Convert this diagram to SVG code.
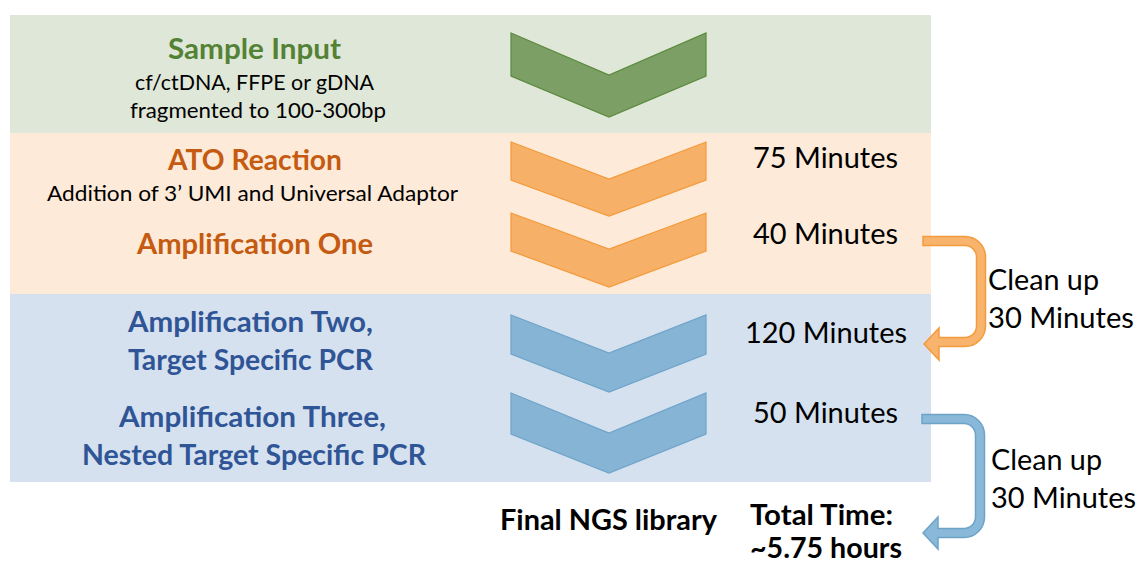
<svg xmlns="http://www.w3.org/2000/svg" width="1141" height="563" viewBox="0 0 1141 563">
<style>
text{font-family:Lato,"Liberation Sans",sans-serif;}
.t{font-size:29px;font-weight:bold;}
.s{font-size:22px;fill:#000;}
.m{font-size:29px;fill:#000;}
.k{font-size:29px;font-weight:bold;fill:#000;}
.g{fill:#548235;}
.o{fill:#c55a11;}
.b{fill:#2f5597;}
.cg{fill:#7c9f65;stroke:#5b8a3c;stroke-width:1.2;}
.co{fill:#f7b067;stroke:#f39a3a;stroke-width:1.2;}
.cb{fill:#86b4d5;stroke:#6fa4c9;stroke-width:1.2;}
.ao{fill:#f8b36d;stroke:#f49b3c;stroke-width:1.5;}
.ab{fill:#8ab8d9;stroke:#6ea3c8;stroke-width:1.5;}
</style>
<rect width="1141" height="563" fill="#fff"/>
<g id="bands">
<rect x="10" y="15" width="921" height="118" fill="#dfe7d8"/>
<rect x="10" y="133" width="921" height="161" fill="#fdead8"/>
<rect x="10" y="294" width="921" height="188" fill="#d5e1ee"/>
</g>
<g id="sample-input">
<polygon class="cg" points="511,33 609,75 706,33 706,76 609,117 511,76"/>
<text class="t g" x="254.5" y="59" text-anchor="middle" textLength="173" lengthAdjust="spacingAndGlyphs">Sample Input</text>
<text class="s" x="254.5" y="90" text-anchor="middle" textLength="239" lengthAdjust="spacingAndGlyphs">cf/ctDNA, FFPE or gDNA</text>
<text class="s" x="258" y="118" text-anchor="middle" textLength="256" lengthAdjust="spacingAndGlyphs">fragmented to 100-300bp</text>
</g>
<g id="ato-reaction">
<polygon class="co" points="511,142 609,179 706,142 706,180 609,216 511,180"/>
<text class="t o" x="255" y="170" text-anchor="middle" textLength="174" lengthAdjust="spacingAndGlyphs">ATO Reaction</text>
<text class="s" x="252.5" y="201" text-anchor="middle" textLength="411" lengthAdjust="spacingAndGlyphs">Addition of 3’ UMI and Universal Adaptor</text>
<text class="m" x="753" y="168" textLength="145" lengthAdjust="spacingAndGlyphs">75 Minutes</text>
</g>
<g id="amplification-one">
<polygon class="co" points="511,213 609,249 706,213 706,251 609,287 511,251"/>
<text class="t o" x="255" y="254" text-anchor="middle" textLength="236" lengthAdjust="spacingAndGlyphs">Amplification One</text>
<text class="m" x="753" y="244" textLength="145" lengthAdjust="spacingAndGlyphs">40 Minutes</text>
</g>
<g id="amplification-two">
<polygon class="cb" points="511,315 609,353 706,315 706,354 609,392 511,354"/>
<text class="t b" x="250.5" y="332" text-anchor="middle" textLength="245" lengthAdjust="spacingAndGlyphs">Amplification Two,</text>
<text class="t b" x="250.5" y="370" text-anchor="middle" textLength="245" lengthAdjust="spacingAndGlyphs">Target Specific PCR</text>
<text class="m" x="745" y="343" textLength="162" lengthAdjust="spacingAndGlyphs">120 Minutes</text>
</g>
<g id="amplification-three">
<polygon class="cb" points="511,393 609,433 706,393 706,434 609,473 511,434"/>
<text class="t b" x="252.5" y="427" text-anchor="middle" textLength="267" lengthAdjust="spacingAndGlyphs">Amplification Three,</text>
<text class="t b" x="254" y="465" text-anchor="middle" textLength="344" lengthAdjust="spacingAndGlyphs">Nested Target Specific PCR</text>
<text class="m" x="753" y="423" textLength="145" lengthAdjust="spacingAndGlyphs">50 Minutes</text>
</g>
<g id="final-library">
<text class="k" x="500" y="530" textLength="217" lengthAdjust="spacingAndGlyphs">Final NGS library</text>
</g>
<g id="total-time">
<text class="k" x="750" y="525" textLength="143" lengthAdjust="spacingAndGlyphs">Total Time:</text>
<text class="k" x="750" y="558" textLength="152" lengthAdjust="spacingAndGlyphs">~5.75 hours</text>
</g>
<g id="connectors">
<path class="ao" d="M923 236.5H965A20.5 20.5 0 0 1 985.5 257V326A20.5 20.5 0 0 1 965 346.5H939V360L924 344L939 328V337.5H965A11.5 11.5 0 0 0 976.5 326V257A11.5 11.5 0 0 0 965 245.5H923Z"/>
<path class="ab" d="M922 414.5H964A20.5 20.5 0 0 1 984.5 435V517A20.5 20.5 0 0 1 964 537.5H938V549L923 533L938 517V528.5H964A11.5 11.5 0 0 0 975.5 517V435A11.5 11.5 0 0 0 964 423.5H922Z"/>
</g>
<g id="cleanup-1">
<text class="m" x="988" y="290" textLength="111" lengthAdjust="spacingAndGlyphs">Clean up</text>
<text class="m" x="988" y="328" textLength="146" lengthAdjust="spacingAndGlyphs">30 Minutes</text>
</g>
<g id="cleanup-2">
<text class="m" x="991" y="470" textLength="111" lengthAdjust="spacingAndGlyphs">Clean up</text>
<text class="m" x="991" y="508" textLength="145" lengthAdjust="spacingAndGlyphs">30 Minutes</text>
</g>
</svg>
